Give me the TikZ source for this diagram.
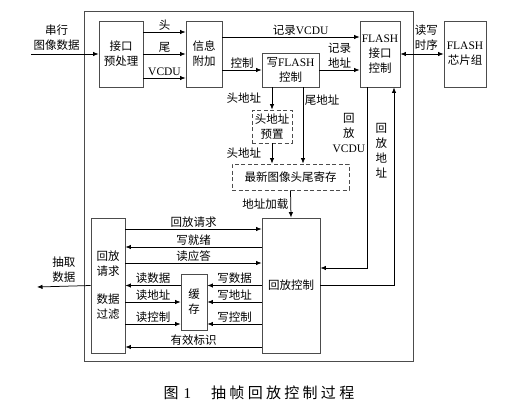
\documentclass[tikz,border=0pt]{standalone}
\usepackage{fontspec}
\setmainfont{Noto Sans CJK SC}
\newfontfamily\latin{Liberation Serif}
\usepackage{xcolor}
\usepackage{tikz}
\usetikzlibrary{arrows.meta,positioning,calc}
\newcommand{\vcdu}{{\latin VCDU}}
\newcommand{\flash}{{\latin FLASH}}

\begin{document}
\begin{tikzpicture}[x=1pt, y=-1pt,
    every node/.style={font=\fontsize{11.5}{15}\selectfont},
    box/.style={rectangle, draw=black!70, line width=0.9pt, inner sep=1pt, align=center},
    dbox/.style={box, dash pattern=on 4pt off 2.5pt},
    arr/.style={-{Latex[length=5.5pt,width=4.5pt]}, line width=0.75pt},
    lbl/.style={inner sep=1.5pt, align=center}
]
\useasboundingbox (0,0) rectangle (513,417);

% Frame
\node[box, minimum width=329pt, minimum height=350pt] (frame) at (248.5,186) {};

% Blocks
\node[box, minimum width=44pt, minimum height=66pt] (pre) at (121,54) {接口\\预处理};
\node[box, minimum width=36pt, minimum height=66pt] (info) at (204,54) {信息\\附加};
\node[box, minimum width=57pt, minimum height=34pt] (wctl) at (290.5,70) {写\flash\\控制};
\node[box, minimum width=40pt, minimum height=66pt] (fctl) at (380,54) {\flash\\接口\\控制};
\node[box, minimum width=42pt, minimum height=66pt] (chip) at (465,54) {\flash\\芯片组};
\node[dbox, minimum width=40pt, minimum height=33pt] (preset) at (272,126.5) {头地址\\预置};
\node[dbox, minimum width=117pt, minimum height=26pt] (reg) at (290.5,177) {最新图像头尾寄存};
\node[box, minimum width=58pt, minimum height=135pt] (play) at (291,285.5) {回放控制};
\node[box, minimum width=34pt, minimum height=135pt] (req) at (108,285.5) {回放\\请求\\[13pt]数据\\过滤};
\node[box, minimum width=26pt, minimum height=56pt] (buf) at (194,302) {缓\\存};

% Free ends
\coordinate (in) at (31,54);
\coordinate (out) at (37,287);

% Upper arrows
\draw[arr] (in) -- (pre.west) node[lbl, pos=0.38, above=2pt] {串行\\图像数据};
\draw[arr] ([yshift=22pt]pre.east) -- ([yshift=22pt]info.west) node[lbl, midway, above] {头};
\draw[arr] (pre.east) -- (info.west) node[lbl, midway, above] {尾};
\draw[arr] ([yshift=-24pt]pre.east) -- ([yshift=-24pt]info.west) node[lbl, midway, above] {\vcdu};
\draw[arr] ([yshift=17pt]info.east) -- ([yshift=17pt]fctl.west) node[lbl, pos=0.57, above] {记录\vcdu};
\draw[arr] ([yshift=-16pt]info.east) -- (wctl.west) node[lbl, midway, above] {控制};
\draw[arr] (wctl.east) -- (wctl.east -| fctl.west) node[lbl, midway, above] {记录\\地址};
\draw[{Latex[length=5.5pt,width=4.5pt]}-{Latex[length=5.5pt,width=4.5pt]}, line width=0.75pt]
    (fctl.east) -- (chip.west) node[lbl, pos=0.6, above=2pt] {读写\\时序};

% Address registers
\draw[arr] (preset.north |- wctl.south) -- (preset.north) node[lbl, midway, left=9pt] {头地址};
\draw[arr] ([xshift=12.5pt]wctl.south) -- ([xshift=12.5pt]wctl.south |- reg.north) node[lbl, pos=0.16, right] {尾地址};
\draw[arr] (preset.south) -- (preset.south |- reg.north) node[lbl, midway, left=9pt] {头地址};
\draw[arr] (reg.south) -- (play.north) node[lbl, midway, left=0.5pt] {地址加载};

% Playback loop
\draw[arr] ([xshift=-13pt]fctl.south) |- ([yshift=17.5pt]play.east) node[lbl, pos=0.127, left] {回\\放\\\vcdu};
\draw[arr] (play.east) -| ([xshift=14pt]fctl.south) node[lbl, pos=0.84, left=5pt] {回\\放\\地\\址};

% Request / filter lines
\draw[arr] ([yshift=56.5pt]req.east) -- ([yshift=56.5pt]play.west) node[lbl, midway, above] {回放请求};
\draw[arr] ([yshift=38.5pt]play.west) -- ([yshift=38.5pt]req.east) node[lbl, midway, above] {写就绪};
\draw[arr] ([yshift=22.5pt]req.east) -- ([yshift=22.5pt]play.west) node[lbl, midway, above] {读应答};
\draw[arr] (buf.west |- req.east) -- (req.east) node[lbl, midway, above] {读数据};
\draw[arr] (req.east |- buf.west) -- (buf.west) node[lbl, midway, above] {读地址};
\draw[arr] ([yshift=-22pt]buf.west -| req.east) -- ([yshift=-22pt]buf.west) node[lbl, midway, above] {读控制};
\draw[arr] (play.west) -- (play.west -| buf.east) node[lbl, midway, above] {写数据};
\draw[arr] (play.west |- buf.east) -- (buf.east) node[lbl, midway, above] {写地址};
\draw[arr] ([yshift=-22pt]buf.east -| play.west) -- ([yshift=-22pt]buf.east) node[lbl, midway, above] {写控制};
\draw[arr] ([yshift=-61.5pt]play.west) -- ([yshift=-61.5pt]req.east) node[lbl, midway, above] {有效标识};
\draw[arr] (req.west) -- (out) node[lbl, midway, above=2pt] {抽取\\数据};

% Caption
\node (cap) at (259,393) {\fontsize{15}{18}\selectfont\addfontfeature{LetterSpace=22}图\hspace{5pt}{\latin 1}\hspace{20pt}抽帧回放控制过程};

\end{tikzpicture}
\end{document}
